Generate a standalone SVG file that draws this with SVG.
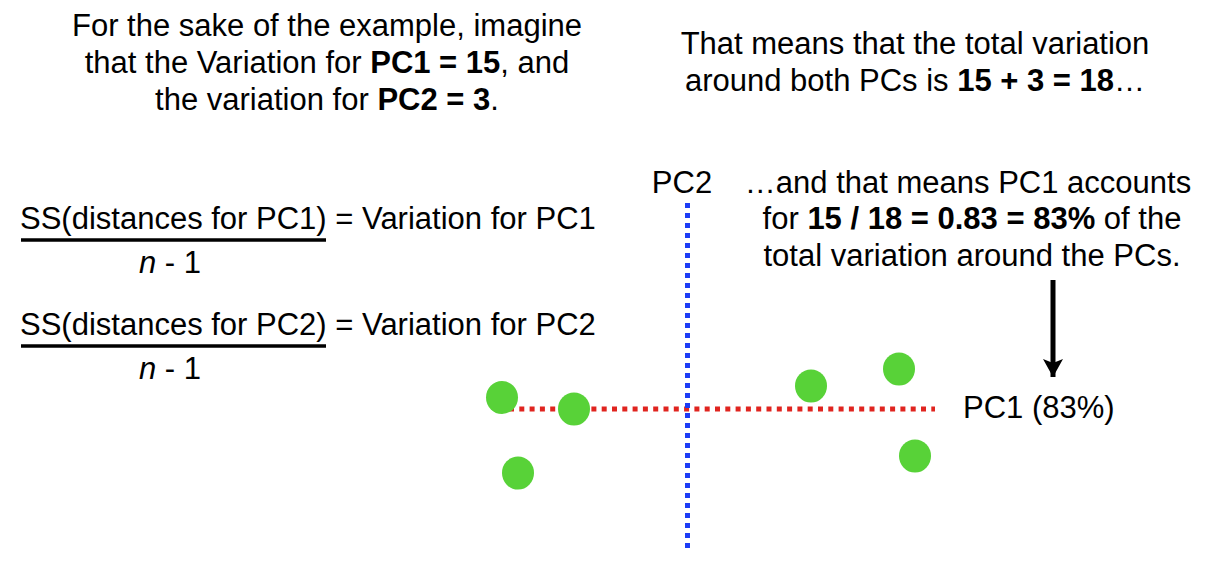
<svg xmlns="http://www.w3.org/2000/svg" width="1210" height="561" viewBox="0 0 1210 561">
<defs>
<style>
text{font-family:"Liberation Sans",Arial,sans-serif;font-size:31px;fill:#000}
.c{text-anchor:middle}
.b{font-weight:bold}
.i{font-style:italic}
.pt{fill:#58d238}
.bar{stroke:#000;stroke-width:3.3}
</style>
<marker id="ah" viewBox="0 0 18 20" refX="18" refY="10" markerWidth="18" markerHeight="20" orient="auto" markerUnits="userSpaceOnUse">
<path d="M0,0 L18,10 L0,20 L4,10 Z" fill="#000"/>
</marker>
</defs>
<rect width="1210" height="561" fill="#fff"/>
<g id="intro">
<text class="c" x="327" y="36">For the sake of the example, imagine</text>
<text class="c" x="327" y="73">that the Variation for <tspan class="b">PC1 = 15</tspan>, and</text>
<text class="c" x="327" y="110">the variation for <tspan class="b">PC2 = 3</tspan>.</text>
</g>
<g id="total">
<text class="c" x="915" y="54">That means that the total variation</text>
<text class="c" x="915" y="91">around both PCs is <tspan class="b">15 + 3 = 18</tspan>…</text>
</g>
<g id="formula1">
<text x="20" y="229">SS(distances for PC1) = Variation for PC1</text>
<line class="bar" x1="21" y1="240" x2="326" y2="240"/>
<text class="c" x="170" y="273"><tspan class="i">n</tspan> - 1</text>
</g>
<g id="formula2">
<text x="20" y="335">SS(distances for PC2) = Variation for PC2</text>
<line class="bar" x1="21" y1="346" x2="326" y2="346"/>
<text class="c" x="170" y="379"><tspan class="i">n</tspan> - 1</text>
</g>
<g id="accounts">
<text class="c" x="968" y="193">…and that means PC1 accounts</text>
<text class="c" x="972" y="229">for <tspan class="b">15 / 18 = 0.83 = 83%</tspan> of the</text>
<text class="c" x="972" y="266">total variation around the PCs.</text>
</g>
<g id="pc2-label"><text class="c" x="682" y="193">PC2</text></g>
<g id="pc1-label"><text x="963" y="418">PC1 (83%)</text></g>
<g id="connectors">
<line x1="509" y1="409" x2="935" y2="409" stroke="#e0241f" stroke-width="5" stroke-dasharray="5 5.3"/>
<line x1="687.5" y1="203" x2="687.5" y2="548" stroke="#1d3cf5" stroke-width="5" stroke-dasharray="5 5"/>
<line x1="1053" y1="280" x2="1053" y2="377" stroke="#000" stroke-width="5" marker-end="url(#ah)"/>
</g>
<g id="points">
<ellipse class="pt" cx="502" cy="397.5" rx="16" ry="16.5"/>
<ellipse class="pt" cx="574" cy="409" rx="16" ry="16.5"/>
<ellipse class="pt" cx="518" cy="473" rx="16" ry="16.5"/>
<ellipse class="pt" cx="811" cy="386" rx="16" ry="16.5"/>
<ellipse class="pt" cx="899" cy="369" rx="16" ry="16.5"/>
<ellipse class="pt" cx="915" cy="456" rx="16" ry="16.5"/>
</g>
</svg>
